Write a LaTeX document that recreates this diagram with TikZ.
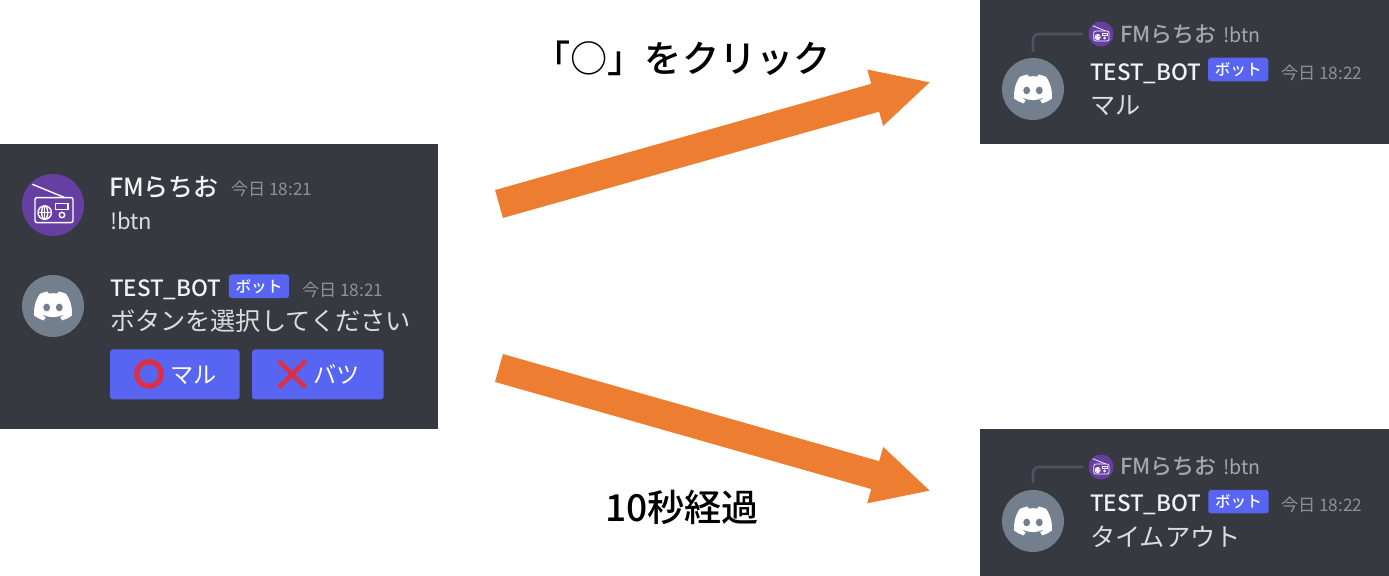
\documentclass[tikz,border=0pt]{standalone}
\usepackage{fontspec}
\setmainfont{Noto Sans CJK JP}
\newfontfamily\jpmed[BoldFont=*]{Noto Sans CJK JP Medium}
\usetikzlibrary{arrows.meta}
\definecolor{panelbg}{HTML}{36393F}
\definecolor{nametxt}{HTML}{F2F3F5}
\definecolor{msgtxt}{HTML}{DCDDDE}
\definecolor{timetxt}{HTML}{8E9297}
\definecolor{replytxt}{HTML}{A3A6AA}
\definecolor{blurple}{HTML}{5865F2}
\definecolor{purpleav}{HTML}{673FA3}
\definecolor{grayav}{HTML}{747F8D}
\definecolor{replyline}{HTML}{4F545C}
\definecolor{crossred}{HTML}{DD2E44}
\definecolor{orangearrow}{HTML}{ED7D31}
\tikzset{
  x=0.5pt,y=-0.5pt,
  panel/.style={fill=panelbg,draw=none,inner sep=0,outer sep=0,anchor=north west},
  txt/.style={inner sep=0,outer sep=0,anchor=base west},
  nametext/.style={txt,text=nametxt,font=\jpmed\fontsize{12.5}{15}\selectfont},
  bottext/.style={txt,text=nametxt,font=\jpmed\fontsize{11.2}{15}\selectfont},
  msgtext/.style={txt,text=msgtxt,font=\fontsize{12.6}{15}\selectfont},
  timetext/.style={txt,text=timetxt,font=\fontsize{8.6}{11}\selectfont},
  replytext/.style={txt,text=replytxt,font=\jpmed\fontsize{11}{13}\selectfont},
  replycmd/.style={txt,text=replytxt,font=\fontsize{9.8}{13}\selectfont},
  badge/.style={fill=blurple,rounded corners=1.5pt,inner sep=0,outer sep=0,minimum width=30.2pt,minimum height=11.8pt,text=white,font=\jpmed\fontsize{7.8}{9}\selectfont},
  btn/.style={fill=blurple,rounded corners=1.5pt,inner sep=0,outer sep=0,anchor=north west,minimum height=25pt},
  btntext/.style={txt,text=white,font=\fontsize{11.6}{15}\selectfont},
  caption/.style={inner sep=0,outer sep=0,text=black,font=\jpmed\fontsize{18.6}{22}\selectfont},
  bigarrow/.style={draw=orangearrow,line width=14.5pt,-{Triangle[length=29pt,width=27pt]}},
  replyconn/.style={draw=replyline,line width=1.3pt,rounded corners=3pt},
  radioicon/.pic={
    \draw[white] (-20.6,-20.7) -- (11.7,-7.4);
    \draw[white,rounded corners=1pt] (-18,-7.4) rectangle (20,17.6);
    \draw[white] (-8.3,7.6) circle[radius=6.7];
    \draw[white] (-15,7.6) -- (-1.6,7.6) (-8.3,1) -- (-8.3,14.2);
    \draw[white] (-8.3,7.6) ellipse[x radius=3,y radius=6.7];
    \draw[white] (2.7,-1.7) rectangle (15,4.3);
    \draw[white] (9,10) circle[radius=2.7];
  },
  discordlogo/.pic={
    \begin{scope}[shift={(-35.5,-27.5)}]
    \fill[white] (60.1,4.9) .. controls (55.6,2.8) and (50.7,1.3) .. (45.65,0.4) -- (43.6,4.2) .. controls (38.2,3.4) and (32.7,3.4) .. (27.4,4.2) -- (25.4,0.4) .. controls (20.3,1.3) and (15.4,2.8) .. (10.9,4.9) .. controls (1.6,18.7) and (-0.9,32.1) .. (0.3,45.4) .. controls (6.5,50) and (12.3,52.7) .. (18.1,54.5) .. controls (19.7,52.6) and (20.9,50.6) .. (22,48.4) .. controls (19.9,47.5) and (18,46.6) .. (16.3,45.5) -- (17.5,44.3) .. controls (29.3,49.6) and (41.8,49.6) .. (53.4,44.3) -- (54.7,45.4) .. controls (52.9,46.6) and (51,47.5) .. (49,48.3) .. controls (50,50.6) and (51.3,52.6) .. (52.7,54.5) .. controls (58.6,52.7) and (64.5,50) .. (70.6,45.5) .. controls (72.2,30.1) and (68.2,16.8) .. (60.1,4.9) -- cycle;
    \fill[grayav] (23.7,30.2) ellipse[x radius=6.4,y radius=7.2];
    \fill[grayav] (47.3,30.2) ellipse[x radius=6.4,y radius=7.2];
    \end{scope}
  },
}
\begin{document}
\begin{tikzpicture}
\useasboundingbox (0,0) rectangle (1389,576);
% panels
\node[panel,minimum width=219pt,minimum height=142.5pt] (pleft) at (0,144) {};
\node[panel,minimum width=204.5pt,minimum height=72pt] (ptop) at (980,0) {};
\node[panel,minimum width=204.5pt,minimum height=73.5pt] (pbot) at (980,429) {};
% left panel
\fill[purpleav] (53,205) circle[radius=31];
\pic[line width=0.7pt] at (53,205) {radioicon};
\node[nametext] (n1) at (109,197) {FMらちお};
\node[timetext] (t1) at (231,196) {今日 18:21};
\node[msgtext,font=\fontsize{11}{13}\selectfont] (m1) at (110,230) {!btn};
\fill[grayav] (53,306) circle[radius=31];
\pic[scale=0.535] at (53,306) {discordlogo};
\node[bottext] (n2) at (110,297) {TEST\_BOT};
\node[badge] (b2) at (259,286.3) {ボット};
\node[timetext] (t2) at (302,297) {今日 18:21};
\node[msgtext] (m2) at (110,331) {ボタンを選択してください};
\node[btn,minimum width=64.8pt] (btnA) at (110,349.5) {};
\node[btn,minimum width=65.8pt] (btnB) at (252,349.5) {};
\draw[crossred,line width=2.6pt] (149,374) circle[radius=12.3];
\node[btntext] (ba) at (170,384) {マル};
\draw[crossred,line width=2.2pt] (279,361) -- (305.5,387.5) (305.5,361) -- (279,387.5);
\node[btntext] (bb) at (313,384) {バツ};
% top right
\coordinate (lt1) at (1033,52);
\coordinate (lt2) at (1033,34);
\coordinate (lt3) at (1083,34);
\draw[replyconn] (lt1) -- (lt2) -- (lt3);
\fill[purpleav] (1101,34) circle[radius=12.5];
\pic[scale=0.4,line width=0.35pt] at (1101,34) {radioicon};
\node[replytext] (r1) at (1120,43) {FMらちお};
\node[replycmd] (r1b) at (1223,43) {!btn};
\fill[grayav] (1033,89) circle[radius=31];
\pic[scale=0.535] at (1033,89) {discordlogo};
\node[bottext] (n3) at (1090,81) {TEST\_BOT};
\node[badge] (b3) at (1238.2,69.5) {ボット};
\node[timetext] (t3) at (1281,80) {今日 18:22};
\node[msgtext] (m3) at (1090,115) {マル};
% bottom right
\coordinate (lb1) at (1033,483);
\coordinate (lb2) at (1033,467);
\coordinate (lb3) at (1083,467);
\draw[replyconn] (lb1) -- (lb2) -- (lb3);
\fill[purpleav] (1101,467) circle[radius=12.5];
\pic[scale=0.4,line width=0.35pt] at (1101,467) {radioicon};
\node[replytext] (r2) at (1120,475) {FMらちお};
\node[replycmd] (r2b) at (1223,475) {!btn};
\fill[grayav] (1033,521) circle[radius=31];
\pic[scale=0.535] at (1033,521) {discordlogo};
\node[bottext] (n4) at (1090,512) {TEST\_BOT};
\node[badge] (b4) at (1238.5,501.7) {ボット};
\node[timetext] (t4) at (1281,512) {今日 18:22};
\node[msgtext] (m4) at (1090,547) {タイムアウト};
% arrows
\coordinate (a1s) at (499,204);
\coordinate (a1e) at (931,82);
\coordinate (a2s) at (499,368);
\coordinate (a2e) at (931,491);
\draw[bigarrow] (a1s) -- (a1e);
\draw[bigarrow] (a2s) -- (a2e);
% captions
\node[caption] (c1) at (682,58) {「○」をクリック};
\node[caption] (c2) at (682,507) {10秒経過};
\end{tikzpicture}
\end{document}
